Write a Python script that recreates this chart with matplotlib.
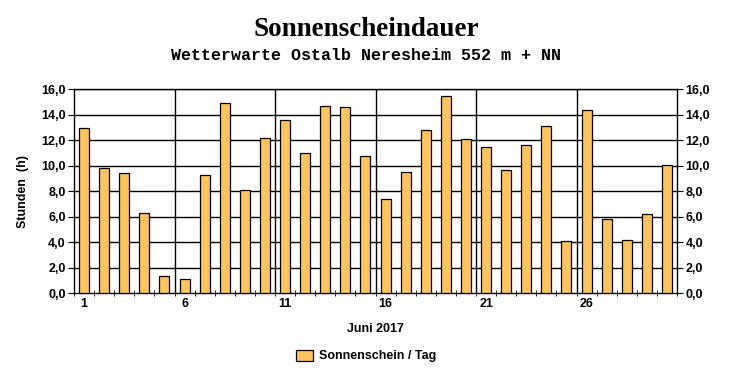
import matplotlib
matplotlib.use('Agg')
import matplotlib.pyplot as plt
import numpy as np

# --- data (Juni 2017) ---
days = list(range(1, 31))
sunshine = [13.0, 9.8, 9.4, 6.3, 1.4, 1.1, 9.3, 14.9, 8.1, 12.2,
            13.6, 11.0, 14.7, 14.6, 10.8, 7.4, 9.5, 12.8, 15.5, 12.1,
            11.5, 9.7, 11.6, 13.1, 4.1, 14.4, 5.8, 4.2, 6.2, 10.1]
day_labels = [1, 6, 11, 16, 21, 26]
y_ticks = np.arange(0, 16.1, 2)

bar_color = '#FFC45C'
sans = 'Liberation Sans'

fig = plt.figure(figsize=(7.32, 3.80), dpi=100)
ax = fig.add_axes([0.1011, 0.228, 0.8238, 0.537])

# --- grid ---
for y in y_ticks[1:]:
    ax.axhline(y, color='black', lw=1.0, zorder=1)
for x in np.arange(5.5, 30, 5):
    ax.axvline(x, color='black', lw=1.0, zorder=1)

ax.bar(days, sunshine, width=0.5, color=bar_color, edgecolor='black',
       linewidth=0.9, zorder=3, label='Sonnenschein / Tag')

ax.set_xlim(0.5, 30.5)
ax.set_ylim(0, 16)
for s in ax.spines.values():
    s.set_linewidth(1.0)

ax.set_xticks(day_labels)
ax.set_xticklabels([str(d) for d in day_labels], fontfamily=sans,
                   fontweight='bold', fontsize=9)
ax.set_xticks(np.arange(0.5, 30.6, 1), minor=True)
ax.tick_params(axis='x', which='major', length=0, pad=3)
ax.tick_params(axis='x', which='minor', length=5, direction='inout')

ax.set_yticks(y_ticks)
ylabels = [('%.1f' % v).replace('.', ',') for v in y_ticks]
ax.set_yticklabels(ylabels, fontfamily=sans, fontweight='bold', fontsize=9)
ax.tick_params(axis='y', which='major', length=4, direction='out', pad=2,
               right=True, labelright=True)

ax.set_ylabel('Stunden  (h)', fontfamily=sans, fontweight='bold',
              fontsize=9, labelpad=9)
ax.set_xlabel('Juni 2017', fontfamily=sans, fontweight='bold',
              fontsize=9, labelpad=10)

# --- titles ---
fig.text(0.5, 0.922, 'Sonnenscheindauer', ha='center', va='center',
         fontfamily='Liberation Serif', fontweight='bold', fontsize=19.5)
fig.text(0.5, 0.855, 'Wetterwarte Ostalb Neresheim 552 m + NN', ha='center',
         va='center', fontfamily='Liberation Mono', fontweight='bold',
         fontsize=12)

leg = fig.legend(loc='center', bbox_to_anchor=(0.5, 0.063), frameon=False,
                 prop={'family': sans, 'weight': 'bold', 'size': 9},
                 handlelength=1.4, handleheight=1.0, handletextpad=0.5)

fig.savefig('out.png', dpi=100)
